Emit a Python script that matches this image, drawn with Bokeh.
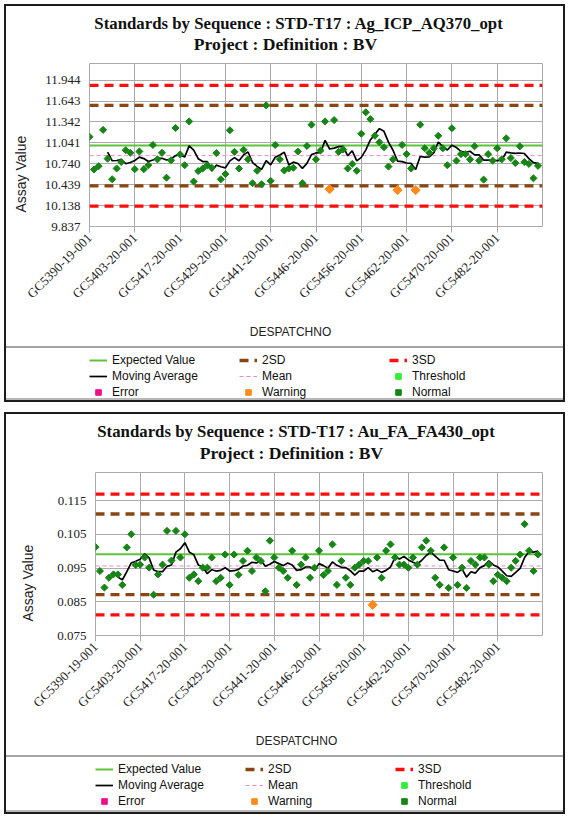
import math
import numpy as np
from bokeh.plotting import figure
from bokeh.models import (Range1d, FixedTicker, NumeralTickFormatter, Legend,
                          LegendItem, Label, Title, ColumnDataSource)
from bokeh.layouts import column
from bokeh.embed import file_html
from bokeh.resources import INLINE

# ---------------- data ----------------
tick_positions = [0, 10, 20, 30, 40, 50, 60, 70, 80, 90]
tick_labels = ["GC5390-19-001", "GC5403-20-001", "GC5417-20-001", "GC5429-20-001",
               "GC5441-20-001", "GC5446-20-001", "GC5456-20-001", "GC5462-20-001",
               "GC5470-20-001", "GC5482-20-001"]

# Panel 1 : Ag_ICP_AQ370_opt
ag_values = [11.129, 10.658, 10.705, 11.228, 10.814, 10.517, 10.672, 10.766, 10.936, 10.898,
             10.663, 10.917, 10.663, 10.719, 11.011, 10.804, 10.898, 10.540, 10.790, 11.256,
             10.875, 10.719, 11.350, 10.484, 10.635, 10.672, 10.719, 10.682, 10.894, 10.517,
             10.592, 11.223, 10.912, 10.672, 10.941, 10.804, 10.460, 10.639, 10.446, 11.581,
             10.493, 11.011, 10.804, 10.644, 10.672, 10.682, 10.917, 10.460, 10.997, 11.303,
             10.804, 10.931, 11.350, 10.375, 11.369, 10.912, 10.945, 10.672, 10.738, 10.639,
             11.172, 11.482, 11.383, 11.143, 11.049, 10.978, 10.700, 10.804, 10.361, 11.011,
             10.879, 10.672, 10.361, 11.303, 10.964, 10.898, 10.964, 11.143, 10.964, 10.719,
             11.252, 10.785, 10.879, 10.879, 10.804, 10.992, 10.785, 10.512, 10.879, 10.785,
             10.964, 10.804, 11.106, 10.823, 10.752, 10.992, 10.766, 10.738, 10.531, 10.710]
ag_moving_avg = [10.907, 10.784, 10.787, 10.799, 10.741, 10.758, 10.787, 10.836, 10.815, 10.772,
                 10.795, 10.823, 10.819, 10.794, 10.809, 10.858, 10.872, 10.836, 10.998, 10.937,
                 10.813, 10.772, 10.772, 10.638, 10.720, 10.697, 10.681, 10.782, 10.828, 10.783,
                 10.868, 10.910, 10.758, 10.703, 10.658, 10.786, 10.724, 10.834, 10.867, 10.907,
                 10.725, 10.763, 10.744, 10.675, 10.746, 10.872, 10.896, 10.899, 11.077, 10.953,
                 10.966, 10.987, 10.990, 10.855, 10.927, 10.781, 10.833, 10.941, 11.083, 11.164,
                 11.246, 11.207, 11.051, 10.935, 10.778, 10.771, 10.751, 10.745, 10.657, 10.845,
                 10.836, 10.840, 10.898, 11.054, 10.987, 10.938, 11.008, 10.973, 10.920, 10.903,
                 10.920, 10.868, 10.868, 10.794, 10.794, 10.791, 10.785, 10.789, 10.908, 10.896,
                 10.890, 10.895, 10.888, 10.814, 10.756, 10.747]
ag_ma_start = 4
ag_warning_idx = [53, 68, 72]
ag_expected = 11.003
ag_mean = 10.858
ag_2sd = [10.421, 11.582]
ag_3sd = [10.130, 11.870]
ag_yticks = [9.837, 10.138, 10.439, 10.740, 11.041, 11.342, 11.643, 11.944]
ag_yrange = [9.837, 12.184]

# Panel 2 : Au_FA_FA430_opt
au_values = [0.1012, 0.0941, 0.0892, 0.0921, 0.0931, 0.0931, 0.0900, 0.1011, 0.1050, 0.0959,
             0.0960, 0.0981, 0.0951, 0.0871, 0.0931, 0.0960, 0.1060, 0.0972, 0.1060, 0.0981,
             0.1050, 0.0921, 0.0931, 0.0911, 0.0951, 0.0951, 0.0981, 0.0911, 0.0921, 0.0990,
             0.0900, 0.0990, 0.0930, 0.0971, 0.1001, 0.0941, 0.0981, 0.0971, 0.0881, 0.1031,
             0.0981, 0.0951, 0.0941, 0.0921, 0.1001, 0.0900, 0.0960, 0.0981, 0.0921, 0.0951,
             0.1001, 0.0929, 0.0941, 0.1020, 0.0900, 0.0971, 0.0921, 0.0900, 0.0951, 0.0960,
             0.0971, 0.0971, 0.0841, 0.0981, 0.0921, 0.1001, 0.1020, 0.0981, 0.0960, 0.0960,
             0.0951, 0.0981, 0.0960, 0.1011, 0.1031, 0.1001, 0.0921, 0.0900, 0.1011, 0.0891,
             0.0981, 0.0900, 0.0951, 0.0891, 0.0971, 0.0960, 0.0981, 0.0981, 0.0960, 0.0911,
             0.0930, 0.0921, 0.0911, 0.0951, 0.0971, 0.0990, 0.1080, 0.1001, 0.0941, 0.0990]
au_moving_avg = [0.0939, 0.0923, 0.0915, 0.0939, 0.0965, 0.0970, 0.0976, 0.0992, 0.0980, 0.0944,
                 0.0939, 0.0939, 0.0955, 0.0959, 0.0997, 0.1007, 0.1025, 0.0997, 0.0989, 0.0959,
                 0.0953, 0.0933, 0.0945, 0.0941, 0.0943, 0.0951, 0.0941, 0.0942, 0.0946, 0.0956,
                 0.0958, 0.0967, 0.0965, 0.0973, 0.0955, 0.0961, 0.0969, 0.0963, 0.0957, 0.0965,
                 0.0959, 0.0943, 0.0945, 0.0953, 0.0953, 0.0943, 0.0963, 0.0957, 0.0949, 0.0968,
                 0.0958, 0.0952, 0.0951, 0.0942, 0.0929, 0.0941, 0.0941, 0.0951, 0.0939, 0.0945,
                 0.0937, 0.0943, 0.0953, 0.0981, 0.0977, 0.0984, 0.0974, 0.0967, 0.0962, 0.0973,
                 0.0987, 0.0997, 0.0985, 0.0973, 0.0973, 0.0945, 0.0941, 0.0937, 0.0947, 0.0923,
                 0.0939, 0.0935, 0.0951, 0.0957, 0.0971, 0.0959, 0.0953, 0.0941, 0.0927, 0.0925,
                 0.0937, 0.0949, 0.0981, 0.0999, 0.0997, 0.1000]
au_ma_start = 4
au_warning_idx = [62]
au_expected = 0.0991
au_mean = 0.0956
au_2sd = [0.0871, 0.1110]
au_3sd = [0.0811, 0.1169]
au_yticks = [0.075, 0.085, 0.095, 0.105, 0.115]
au_yrange = [0.075, 0.1233]

legend_labels = ["Expected Value", "2SD", "3SD", "Moving Average", "Mean",
                 "Threshold", "Error", "Warning", "Normal"]

# ---------------- styling ----------------
W = 569
FRAME_LEFT = 87
X_START, X_END = 0, 100
GRID = "#ababab"
C_EV = "#5ec33c"
C_2SD = "#8b4513"
C_3SD = "#ff0d0d"
C_MEAN = "#ee88c8"
C_NORMAL = "#168516"
C_WARN = "#ff8a1c"
C_ERROR = "#ee1188"
C_THRESH = "#33ee33"
BLACK = "#1c1c1c"
SANS = "Liberation Sans"
SERIF = "Liberation Serif"

LINE_STYLES = {
    "Expected Value": dict(line_color=C_EV, line_width=2),
    "2SD": dict(line_color=C_2SD, line_width=3.3, line_dash="9 6"),
    "3SD": dict(line_color=C_3SD, line_width=3.3, line_dash="9 6"),
    "Moving Average": dict(line_color="black", line_width=1.7),
    "Mean": dict(line_color=C_MEAN, line_width=1, line_dash="4 3"),
}
MARKER_STYLES = {
    "Threshold": dict(color=C_THRESH, size=5),
    "Error": dict(color=C_ERROR, size=5),
    "Warning": dict(color=C_WARN, size=6.5),
    "Normal": dict(color=C_NORMAL, size=5),
}
MARKER = dict(marker="square", angle=math.pi / 4)


def bar(color, x, y, w, h):
    return "linear-gradient(%s, %s) %dpx %dpx / %dpx %dpx no-repeat" % (color, color, x, y, w, h)


def css(layers):
    return {"background": ", ".join(layers + ["#ffffff"])}


def blank_fig(height):
    f = figure(width=W, height=height, x_range=Range1d(0, 1), y_range=Range1d(0, 1),
               output_backend="svg", toolbar_location=None, min_border=0,
               x_axis_location=None, y_axis_location=None,
               background_fill_color=None, border_fill_color=None,
               outline_line_color=None)
    f.grid.visible = False
    return f


def title_fig(title1, t1_center, height, y1, y2):
    # the frame of this strip is aligned with the plot frame below (x = 87 .. 542)
    f = blank_fig(height)
    f.styles = css([bar(BLACK, 4, 4, 561, 2), bar(BLACK, 4, 4, 2, height - 4),
                    bar(BLACK, 563, 4, 2, height - 4)])
    f.add_layout(Label(x=t1_center - FRAME_LEFT, y=y1, x_units="screen", y_units="screen",
                       text=title1, text_align="center", text_baseline="middle",
                       text_font=SERIF, text_font_style="bold",
                       text_font_size="16.8px", text_color="#111111"))
    f.add_layout(Label(x=283 - FRAME_LEFT, y=y2, x_units="screen", y_units="screen",
                       text="Project : Definition : BV", text_align="center",
                       text_baseline="middle", text_font=SERIF, text_font_style="bold",
                       text_font_size="17.6px", text_color="#111111"))
    return f


def main_fig(values, moving_avg, ma_start, warn_idx, expected, mean, sd2, sd3,
             yticks, yrange, ylabel_standoff):
    height = 1 + 166 + 80
    p = figure(width=W, height=height,
               x_range=Range1d(X_START, X_END), y_range=Range1d(*yrange),
               output_backend="svg", toolbar_location=None,
               min_border_left=FRAME_LEFT, min_border_right=27, min_border_top=1,
               min_border_bottom=80, background_fill_color="white",
               border_fill_color=None, outline_line_color=GRID,
               outline_line_width=1)
    p.styles = css([bar(BLACK, 4, 0, 2, height), bar(BLACK, 563, 0, 2, height)])

    p.xaxis.ticker = FixedTicker(ticks=tick_positions)
    p.xaxis.major_label_overrides = {t: s for t, s in zip(tick_positions, tick_labels)}
    p.xaxis.major_label_orientation = math.pi / 4
    p.xaxis.major_label_text_font = SERIF
    p.xaxis.major_label_text_font_size = "13px"
    p.xaxis.major_label_text_color = "#222222"
    p.xaxis.major_label_standoff = 3
    p.xaxis.major_tick_out = 6
    p.xaxis.major_tick_in = 0
    p.xaxis.major_tick_line_color = GRID
    p.xaxis.minor_tick_line_color = None
    p.xaxis.axis_line_color = None

    p.yaxis.ticker = FixedTicker(ticks=yticks)
    p.yaxis.formatter = NumeralTickFormatter(format="0.000")
    p.yaxis.major_label_text_font = SERIF
    p.yaxis.major_label_text_font_size = "13px"
    p.yaxis.major_label_text_color = "#222222"
    p.yaxis.major_label_standoff = 9
    p.yaxis.major_tick_out = 0
    p.yaxis.major_tick_in = 0
    p.yaxis.minor_tick_line_color = None
    p.yaxis.axis_line_color = None

    p.xgrid.ticker = FixedTicker(ticks=tick_positions)
    p.grid.grid_line_color = GRID
    p.grid.grid_line_width = 1

    p.add_layout(Title(text="Assay Value", align="left", offset=14,
                       vertical_align="middle", standoff=ylabel_standoff,
                       text_font=SANS, text_font_size="14px",
                       text_font_style="normal", text_color="#222222"), "left")

    xs_pair = [X_START, X_END]
    p.multi_line(xs=[xs_pair, xs_pair], ys=[[sd3[0]] * 2, [sd3[1]] * 2], **LINE_STYLES["3SD"])
    p.multi_line(xs=[xs_pair, xs_pair], ys=[[sd2[0]] * 2, [sd2[1]] * 2], **LINE_STYLES["2SD"])
    p.line(xs_pair, [expected] * 2, **LINE_STYLES["Expected Value"])
    p.line(xs_pair, [mean] * 2, **LINE_STYLES["Mean"])

    ma_x = list(range(ma_start, ma_start + len(moving_avg)))
    p.line(ma_x, moving_avg, **LINE_STYLES["Moving Average"])

    xi = list(range(len(values)))
    normal = ColumnDataSource(dict(x=[i for i in xi if i not in warn_idx],
                                   y=[v for i, v in zip(xi, values) if i not in warn_idx]))
    warn = ColumnDataSource(dict(x=[i for i in xi if i in warn_idx],
                                 y=[v for i, v in zip(xi, values) if i in warn_idx]))
    p.scatter("x", "y", source=normal, **MARKER, **MARKER_STYLES["Normal"])
    p.scatter("x", "y", source=warn, **MARKER, **MARKER_STYLES["Warning"])
    return p


def bottom_fig(height, bottom_line_y, xlabel_y, legend_vy):
    # the frame of this strip is aligned with the plot frame above (x = 87 .. 542)
    f = blank_fig(height)
    b = bottom_line_y
    f.styles = css([bar(BLACK, 4, 0, 2, b + 2), bar(BLACK, 563, 0, 2, b + 2),
                    bar("#a4a4a4", 4, 37, 561, 2), bar("#b8b8b8", 4, b - 2, 561, 2),
                    bar(BLACK, 4, b, 561, 2)])
    f.add_layout(Label(x=288 - FRAME_LEFT, y=xlabel_y, x_units="screen", y_units="screen",
                       text="DESPATCHNO", text_align="center", text_baseline="middle",
                       text_font=SANS, text_font_size="12px", text_color="#222222"))
    # legend swatches only (no data values: NaN)
    rends = {}
    for lab in legend_labels:
        src = ColumnDataSource(dict(x=np.array([np.nan]), y=np.array([np.nan])))
        if lab in LINE_STYLES:
            rends[lab] = f.line("x", "y", source=src, **LINE_STYLES[lab])
        else:
            rends[lab] = f.scatter("x", "y", source=src, **MARKER, **MARKER_STYLES[lab])
    items = [LegendItem(label=lab, renderers=[rends[lab]]) for lab in legend_labels]
    legend = Legend(items=items, orientation="horizontal", ncols=3,
                    location=(0, legend_vy), margin=0, padding=4, spacing=2,
                    glyph_width=18, glyph_height=14, label_height=14, label_width=125,
                    label_standoff=5, label_text_font=SANS, label_text_font_size="12px",
                    label_text_color="#111111", border_line_color=None,
                    background_fill_alpha=0)
    f.add_layout(legend, "center")
    return f


panel1 = column(
    title_fig("Standards by Sequence : STD-T17 : Ag_ICP_AQ370_opt", 296.5, 62, 39, 19),
    main_fig(ag_values, ag_moving_avg, ag_ma_start, ag_warning_idx, ag_expected, ag_mean,
             ag_2sd, ag_3sd, ag_yticks, ag_yrange, 23),
    bottom_fig(97, 91, 75, 7),
    spacing=0)
panel2 = column(
    title_fig("Standards by Sequence : STD-T17 : Au_FA_FA430_opt", 288, 63, 40, 19),
    main_fig(au_values, au_moving_avg, au_ma_start, au_warning_idx, au_expected, au_mean,
             au_2sd, au_3sd, au_yticks, au_yrange, 36),
    bottom_fig(100, 94, 78, 10),
    spacing=0)

layout = column(panel1, panel2, spacing=2)
open("out.html", "w").write(file_html(layout, INLINE))
